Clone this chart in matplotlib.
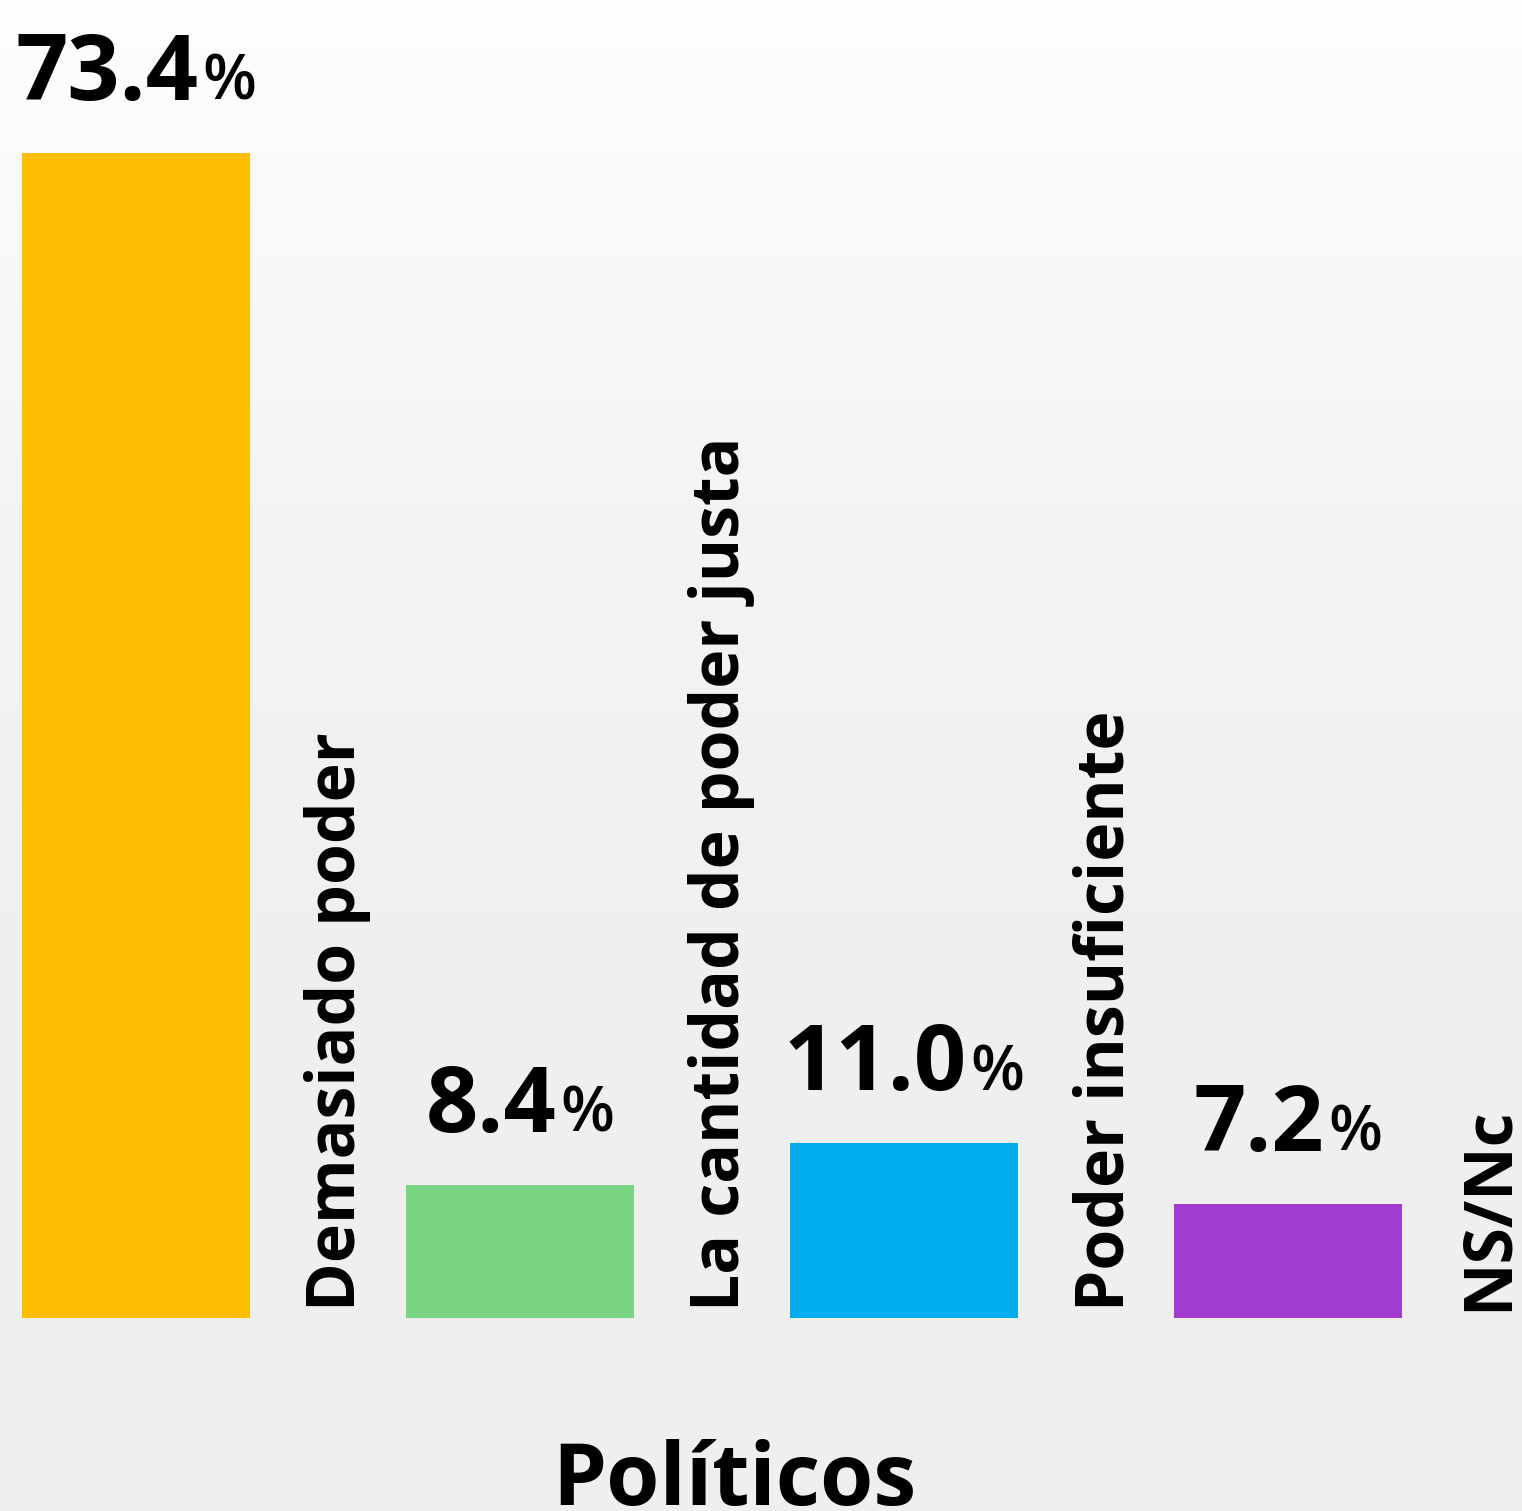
import numpy as np
import matplotlib
matplotlib.use("Agg")
import matplotlib.pyplot as plt
from matplotlib.colors import LinearSegmentedColormap

# data
categories = ["Demasiado poder", "La cantidad de poder justa", "Poder insuficiente", "NS/Nc"]
values = [73.4, 8.4, 11.0, 7.2]
value_labels = ["73.4", "8.4", "11.0", "7.2"]
colors = ["#FDBE02", "#79D484", "#00AEEF", "#A03CD0"]
title = "Políticos"

FONT = "Open Sans"
W, H = 1522, 1511

fig = plt.figure(figsize=(W / 100, H / 100), dpi=100)
ax = fig.add_axes([0, 0, 1, 1])
ax.axis("off")

# map pixels: bar centres every 384 px starting at 136, baseline at 1318, 73.4 -> 153
px_per_x = 384.0
px_per_y = (1318 - 153) / values[0]
x0, y0 = 136.0, 1318.0
xlim = (-x0 / px_per_x, (W - x0) / px_per_x)
ylim = (-(H - y0) / px_per_y, y0 / px_per_y)
ax.set_xlim(xlim)
ax.set_ylim(ylim)

# background gradient, white at the top to light grey
grad = np.linspace(0, 1, 256).reshape(-1, 1)
cmap = LinearSegmentedColormap.from_list("bg", ["#fefefe", "#f4f4f4", "#efefef", "#efefef"])
ax.imshow(grad, extent=(xlim[0], xlim[1], ylim[0], ylim[1]), origin="upper",
          aspect="auto", cmap=cmap, zorder=0)

x = np.arange(len(values))
ax.bar(x, values, width=228 / px_per_x, color=colors, zorder=2)

# rotated category labels to the right of each bar
for xi, cat in zip(x, categories):
    ax.text(xi + 219 / px_per_x, 7 / px_per_y, cat, rotation=90, rotation_mode="anchor",
            ha="left", va="baseline", fontsize=47.5, fontweight="bold", family=FONT,
            color="black", zorder=3)

# value labels: big number + smaller percent sign, centred over the bar
fig.canvas.draw()
renderer = fig.canvas.get_renderer()
inv = ax.transData.inverted()
for xi, v, lab in zip(x, values, value_labels):
    t1 = ax.text(0, 0, lab, fontsize=66, fontweight="bold", family=FONT,
                 ha="left", va="baseline", zorder=3)
    t2 = ax.text(0, 0, "%", fontsize=45, fontweight="semibold", family=FONT,
                 ha="left", va="baseline", zorder=3)
    w1 = t1.get_window_extent(renderer).width
    w2 = t2.get_window_extent(renderer).width
    gap = 4
    bx, by = ax.transData.transform((xi, v))
    left = bx - (w1 + gap + w2) / 2
    base = by + 53
    t1.set_position(inv.transform((left, base)))
    t2.set_position(inv.transform((left + w1 + gap, base)))

# bottom title
tx, ty = inv.transform((734, 6))
ax.text(tx, ty, title, ha="center", va="baseline", fontsize=62, fontweight="bold",
        family=FONT, color="black", zorder=3)

fig.savefig("out.png", dpi=100)
